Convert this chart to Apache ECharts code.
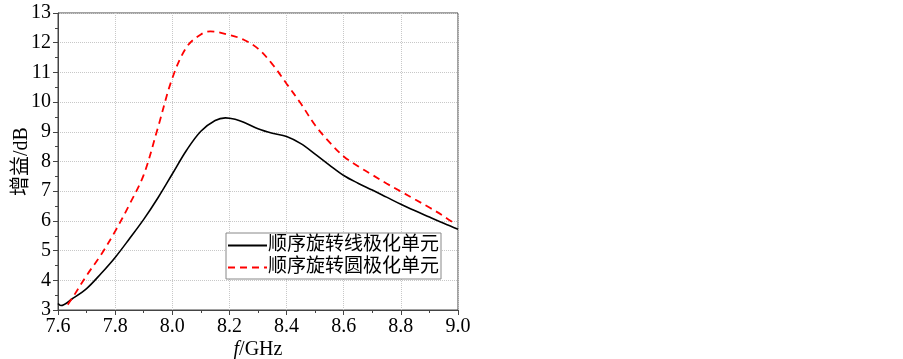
<!DOCTYPE html>
<html>
<head>
<meta charset="utf-8">
<script src="https://cdn.jsdelivr.net/npm/echarts@6/dist/echarts.min.js"></script>
<style>html,body{margin:0;padding:0;background:#fff;}#c{width:903px;height:359px;}</style>
</head>
<body>
<div id="c"></div>
<script>
// Data
const seriesNames = ['顺序旋转线极化单元', '顺序旋转圆极化单元'];
const linFreq = [7.60, 7.61, 7.65, 7.70, 7.75, 7.80, 7.85, 7.90, 7.95, 8.00, 8.05, 8.10, 8.15, 8.186, 8.22, 8.25, 8.30, 8.35, 8.40, 8.45, 8.50, 8.55, 8.60, 8.65, 8.70, 8.75, 8.80, 8.85, 8.90, 8.95, 9.00];
const linGain = [3.22, 3.15, 3.38, 3.72, 4.22, 4.77, 5.40, 6.05, 6.78, 7.58, 8.38, 9.02, 9.38, 9.47, 9.42, 9.32, 9.10, 8.95, 8.84, 8.60, 8.25, 7.88, 7.53, 7.27, 7.04, 6.80, 6.56, 6.34, 6.13, 5.92, 5.72];
const cirFreq = [7.634, 7.65, 7.70, 7.75, 7.80, 7.85, 7.90, 7.95, 8.00, 8.05, 8.10, 8.133, 8.20, 8.25, 8.30, 8.35, 8.40, 8.45, 8.50, 8.55, 8.60, 8.65, 8.70, 8.75, 8.80, 8.85, 8.90, 8.95, 8.985];
const cirGain = [3.18, 3.40, 4.16, 4.85, 5.65, 6.55, 7.55, 9.15, 10.80, 11.85, 12.28, 12.38, 12.26, 12.10, 11.80, 11.28, 10.62, 9.95, 9.22, 8.65, 8.17, 7.84, 7.55, 7.26, 6.99, 6.72, 6.45, 6.16, 5.93];
const xTicks = ['7.6', '7.8', '8.0', '8.2', '8.4', '8.6', '8.8', '9.0'];
const yTicks = ['3', '4', '5', '6', '7', '8', '9', '10', '11', '12', '13'];

const zip = (a, b) => a.map((v, i) => [v, b[i]]);
const serif = 'Liberation Serif, "Times New Roman", "Noto Sans CJK SC", serif';

const chart = echarts.init(document.getElementById('c'), null, {renderer: 'canvas'});
chart.setOption({
  animation: false,
  backgroundColor: '#fff',
  grid: {left: 58, right: 445, top: 13, bottom: 49, outerBoundsMode: 'none', containLabel: false,
         show: true, borderColor: '#444', borderWidth: 1, backgroundColor: 'transparent'},
  xAxis: {
    type: 'value', min: Number(xTicks[0]), max: Number(xTicks[xTicks.length - 1]), interval: 0.2,
    name: '{i|f}/GHz', nameLocation: 'middle', nameGap: 30, nameMoveOverlap: false,
    nameTextStyle: {fontFamily: serif, fontSize: 20, color: '#000', rich: {i: {fontFamily: serif, fontStyle: 'italic', fontSize: 20, color: '#000'}}},
    axisLine: {show: true, lineStyle: {color: '#444', width: 1}},
    axisTick: {show: true, inside: false, length: 5, lineStyle: {color: '#444'}},
    minorTick: {show: true, splitNumber: 2, length: 3, lineStyle: {color: '#444'}},
    axisLabel: {fontFamily: serif, fontSize: 20, color: '#000', margin: 7, formatter: v => v.toFixed(1)},
    splitLine: {show: true, lineStyle: {color: '#c8c8c8', type: 'dotted', width: 1}}
  },
  yAxis: {
    type: 'value', min: Number(yTicks[0]), max: Number(yTicks[yTicks.length - 1]), interval: 1,
    name: '增益/dB', nameLocation: 'middle', nameGap: 26, nameRotate: 90, nameMoveOverlap: false,
    nameTextStyle: {fontFamily: serif, fontSize: 20, color: '#000'},
    axisLine: {show: true, lineStyle: {color: '#444', width: 1}},
    axisTick: {show: true, inside: false, length: 5, lineStyle: {color: '#444'}},
    minorTick: {show: true, splitNumber: 2, length: 3, lineStyle: {color: '#444'}},
    axisLabel: {fontFamily: serif, fontSize: 20, color: '#000', margin: 7},
    splitLine: {show: true, lineStyle: {color: '#c8c8c8', type: 'dotted', width: 1}}
  },
  legend: {
    orient: 'vertical', left: 226, top: 233,
    padding: [2, 2, 1, 1], itemGap: 1, itemWidth: 39, itemHeight: 14,
    borderColor: '#888', borderWidth: 1, backgroundColor: '#fff',
    itemStyle: {opacity: 0},
    textStyle: {fontFamily: serif, fontSize: 19, color: '#000', lineHeight: 21, padding: [0, 0, 0, -4]},
    data: seriesNames
  },
  series: [
    {name: seriesNames[0], type: 'line', data: zip(linFreq, linGain), smooth: 0.35, symbol: 'none',
     lineStyle: {color: '#000', width: 1.6}, itemStyle: {color: '#000'}},
    {name: seriesNames[1], type: 'line', data: zip(cirFreq, cirGain), smooth: 0.35, symbol: 'none',
     lineStyle: {color: '#ff0000', width: 1.8, type: [7, 5]}, itemStyle: {color: '#ff0000'}}
  ]
});
</script>
</body>
</html>
